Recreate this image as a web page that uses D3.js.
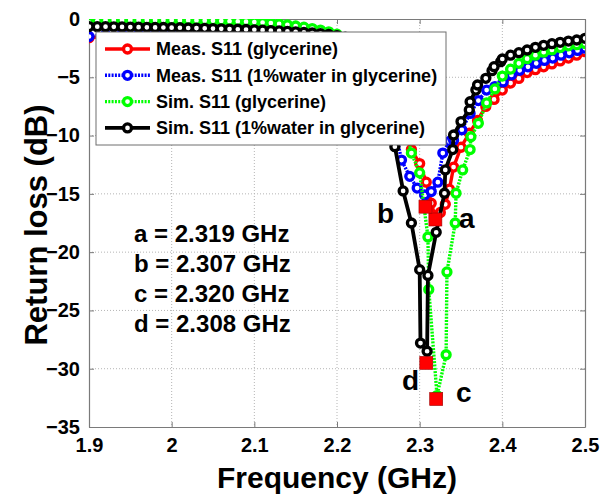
<!DOCTYPE html>
<html>
<head>
<meta charset="utf-8">
<script src="https://cdn.jsdelivr.net/npm/d3@7"></script>
<style>
  body { margin: 0; background: #fff; }
  text { font-family: Arial, "Liberation Sans", sans-serif; font-weight: bold; fill: #000; }
</style>
</head>
<body>
<svg id="chart" width="603" height="500"></svg>
<script>
// Return loss sweeps, [frequency GHz, S11 dB]
const measGlycerine = [
  [1.90,-1.6],[1.92,-1.5],[1.94,-1.5],[1.96,-1.5],[1.98,-1.5],[2.00,-1.5],[2.02,-1.55],[2.04,-1.6],
  [2.06,-1.65],[2.08,-1.7],[2.10,-1.8],[2.12,-1.9],[2.14,-2.05],[2.16,-2.3],[2.18,-2.6],[2.20,-3.1],
  [2.22,-3.9],[2.24,-5.0],[2.26,-6.8],[2.28,-9.4],[2.290,-11.2],[2.300,-12.4],[2.308,-14.0],
  [2.314,-15.8],[2.319,-17.0],[2.325,-16.6],[2.331,-15.9],[2.336,-14.6],[2.341,-12.7],[2.350,-11.0],
  [2.360,-9.8],[2.370,-8.7],[2.380,-7.5],[2.390,-6.9],[2.400,-6.1],[2.410,-5.5],[2.420,-5.1],
  [2.430,-4.6],[2.440,-4.35],[2.450,-4.1],[2.460,-3.85],[2.470,-3.6],[2.480,-3.35],[2.490,-3.1],[2.500,-2.8]
];
const measWater = [
  [1.90,-1.5],[1.92,-1.35],[1.94,-1.3],[1.96,-1.3],[1.98,-1.3],[2.00,-1.35],[2.02,-1.4],[2.04,-1.45],
  [2.06,-1.5],[2.08,-1.6],[2.10,-1.7],[2.12,-1.85],[2.14,-2.0],[2.16,-2.3],[2.18,-2.7],[2.20,-3.2],
  [2.22,-4.1],[2.24,-5.4],[2.26,-7.5],[2.270,-9.3],[2.278,-12.1],[2.288,-13.5],[2.297,-14.5],
  [2.306,-15.1],[2.314,-14.8],[2.322,-14.0],[2.328,-11.5],[2.336,-10.5],[2.341,-10.4],[2.351,-9.5],
  [2.361,-8.1],[2.371,-7.0],[2.381,-6.1],[2.391,-5.8],[2.401,-5.4],[2.411,-4.8],[2.421,-4.4],
  [2.431,-4.1],[2.441,-3.8],[2.451,-3.55],[2.461,-3.35],[2.471,-3.1],[2.481,-2.9],[2.491,-2.7],[2.500,-2.5]
];
const simGlycerine = [
  [1.90,-0.30],[1.91,-0.18],[1.92,-0.12],[1.93,-0.10],[1.94,-0.10],[1.95,-0.10],[1.96,-0.10],[1.97,-0.10],
  [1.98,-0.10],[1.99,-0.10],[2.00,-0.11],[2.01,-0.12],[2.02,-0.12],[2.03,-0.13],[2.04,-0.14],[2.05,-0.15],
  [2.06,-0.17],[2.07,-0.19],[2.08,-0.21],[2.09,-0.23],[2.10,-0.26],[2.11,-0.30],[2.12,-0.35],[2.13,-0.42],
  [2.14,-0.50],[2.15,-0.60],[2.16,-0.70],[2.17,-0.82],[2.18,-0.95],[2.19,-1.10],[2.20,-1.30],
  [2.22,-1.9],[2.24,-3.0],[2.26,-5.0],[2.28,-8.5],[2.290,-11.5],[2.300,-13.2],[2.310,-18.7],
  [2.311,-23.2],[2.321,-32.3],[2.332,-28.8],[2.333,-21.7],[2.343,-17.5],[2.344,-14.95],[2.352,-12.95],
  [2.361,-11.2],[2.362,-10.1],[2.371,-8.95],[2.381,-7.2],[2.391,-6.0],[2.400,-4.9],[2.410,-4.3],
  [2.420,-3.8],[2.430,-3.4],[2.440,-3.1],[2.450,-2.85],[2.460,-2.65],[2.470,-2.45],[2.480,-2.3],
  [2.490,-2.2],[2.500,-2.1]
];
const simWater = [
  [1.90,-0.65],[1.91,-0.66],[1.92,-0.66],[1.93,-0.67],[1.94,-0.68],[1.95,-0.69],[1.96,-0.70],[1.97,-0.71],
  [1.98,-0.72],[1.99,-0.73],[2.00,-0.74],[2.01,-0.75],[2.02,-0.77],[2.03,-0.78],[2.04,-0.80],[2.05,-0.82],
  [2.06,-0.84],[2.07,-0.86],[2.08,-0.88],[2.09,-0.90],[2.10,-0.93],[2.11,-0.96],[2.12,-0.99],[2.13,-1.02],
  [2.14,-1.06],[2.15,-1.10],[2.16,-1.15],[2.17,-1.20],[2.18,-1.26],[2.19,-1.33],[2.20,-1.42],[2.21,-1.55],
  [2.22,-1.75],[2.23,-2.05],[2.24,-2.6],[2.25,-3.6],[2.26,-5.8],[2.270,-10.95],[2.280,-14.75],
  [2.290,-17.5],[2.300,-21.5],[2.301,-27.8],[2.309,-28.5],[2.310,-22.0],[2.320,-18.3],[2.330,-14.95],
  [2.331,-12.95],[2.340,-11.2],[2.341,-9.95],[2.350,-8.8],[2.360,-7.8],[2.361,-7.1],[2.368,-6.1],
  [2.370,-5.66],[2.380,-5.09],[2.3875,-4.43],[2.390,-4.09],[2.398,-3.66],[2.400,-3.43],[2.410,-3.1],
  [2.420,-2.89],[2.430,-2.66],[2.440,-2.43],[2.450,-2.26],[2.460,-2.12],[2.470,-2.0],[2.480,-1.89],
  [2.490,-1.8],[2.500,-1.66]
];

// Resonance minima marked with squares
const minimaLabels = ["a", "b", "c", "d"];
const minimaFreq = [2.319, 2.307, 2.320, 2.308];
const minimaDb = [-17.2, -16.1, -32.6, -29.5];

const seriesNames = [
  "Meas. S11 (glycerine)",
  "Meas. S11 (1%water in glycerine)",
  "Sim. S11 (glycerine)",
  "Sim. S11 (1%water in glycerine)"
];
const seriesColors = ["#ff0000", "#0000ff", "#00ff00", "#000000"];
const seriesDashes = [null, "2,1.3", "2,1.3", null];
const seriesWidths = [3.4, 3.4, 3.4, 3.8];
const seriesData = [measGlycerine, measWater, simGlycerine, simWater];

const xTicks = [1.9, 2.0, 2.1, 2.2, 2.3, 2.4, 2.5];
const yTicks = [-35, -30, -25, -20, -15, -10, -5, 0];

const svg = d3.select("#chart");
const plotL = 89, plotR = 585, plotT = 19, plotB = 427;

const x = d3.scaleLinear().domain([1.9, 2.5]).range([plotL, plotR]);
const y = d3.scaleLinear().domain([-35, 0]).range([plotB, plotT]);

svg.append("defs").append("clipPath").attr("id", "plotClip")
  .append("rect").attr("x", plotL).attr("y", plotT)
  .attr("width", plotR - plotL).attr("height", plotB - plotT);

// dotted grid
const grid = svg.append("g").attr("stroke", "#b5b5b5").attr("stroke-width", 1)
  .attr("stroke-dasharray", "1,2");
grid.selectAll("line.gx").data(xTicks.slice(1, -1)).join("line").attr("class", "gx")
  .attr("x1", d => x(d)).attr("x2", d => x(d)).attr("y1", plotT).attr("y2", plotB);
grid.selectAll("line.gy").data(yTicks.slice(1, -1)).join("line").attr("class", "gy")
  .attr("y1", d => y(d)).attr("y2", d => y(d)).attr("x1", plotL).attr("x2", plotR);

// axes with inward ticks
const fmtX = d => (d === 2 ? "2" : d3.format(".1f")(d));
const axisColor = "#7a7a7a";
function styleAxis(g, showLabels) {
  g.select(".domain").attr("stroke", axisColor).attr("stroke-width", 1.2);
  g.selectAll(".tick line").attr("stroke", axisColor);
  g.selectAll(".tick text").style("font-size", "20px")
    .style("font-family", "Arial, 'Liberation Sans', sans-serif")
    .style("font-weight", "bold").attr("fill", "#000");
  if (!showLabels) g.selectAll(".tick text").remove();
}
svg.append("g").attr("transform", `translate(0,${plotB})`)
  .call(d3.axisBottom(x).tickValues(xTicks).tickFormat(fmtX).tickSizeInner(-5).tickSizeOuter(0).tickPadding(11))
  .call(g => styleAxis(g, true));
svg.append("g").attr("transform", `translate(0,${plotT})`)
  .call(d3.axisTop(x).tickValues(xTicks).tickSizeInner(-5).tickSizeOuter(0))
  .call(g => styleAxis(g, false));
svg.append("g").attr("transform", `translate(${plotL},0)`)
  .call(d3.axisLeft(y).tickValues(yTicks).tickSizeInner(-5).tickSizeOuter(0).tickPadding(9))
  .call(g => styleAxis(g, true));
svg.append("g").attr("transform", `translate(${plotR},0)`)
  .call(d3.axisRight(y).tickValues(yTicks).tickSizeInner(-5).tickSizeOuter(0))
  .call(g => styleAxis(g, false));

// curves
const plot = svg.append("g").attr("clip-path", "url(#plotClip)");
const line = d3.line().x(d => x(d[0])).y(d => y(d[1]));
seriesData.forEach((data, i) => {
  const g = plot.append("g");
  g.append("path").datum(data).attr("d", line)
    .attr("fill", "none").attr("stroke", seriesColors[i]).attr("stroke-width", seriesWidths[i])
    .attr("stroke-dasharray", seriesDashes[i]).attr("stroke-linejoin", "round");
  g.selectAll("circle").data(data).join("circle")
    .attr("cx", d => x(d[0])).attr("cy", d => y(d[1])).attr("r", 4)
    .attr("fill", "#fff").attr("stroke", seriesColors[i]).attr("stroke-width", 3.3);
});

// minima squares
const sq = 13;
plot.selectAll("rect.minimum").data(minimaFreq).join("rect")
  .attr("class", "minimum")
  .attr("x", (d) => x(d) - sq / 2).attr("y", (d, i) => y(minimaDb[i]) - sq / 2)
  .attr("width", sq).attr("height", sq)
  .attr("fill", "#ff0000").attr("stroke", "#a00000").attr("stroke-width", 0.6);

// point letters
const letterPos = { a: [459, 228], b: [377, 223], c: [456, 402], d: [402, 390] };
svg.selectAll("text.letter").data(minimaLabels).join("text")
  .attr("class", "letter")
  .attr("x", d => letterPos[d][0]).attr("y", d => letterPos[d][1])
  .style("font-size", "28px").text(d => d);

// frequency notes
svg.selectAll("text.note").data(minimaLabels).join("text")
  .attr("class", "note")
  .attr("x", 134).attr("y", (d, i) => 241.7 + i * 30)
  .style("font-size", "24px")
  .text((d, i) => `${d} = ${minimaFreq[i].toFixed(3)} GHz`);

// legend
const legend = svg.append("g");
legend.append("rect").attr("x", 96).attr("y", 32).attr("width", 350).attr("height", 113)
  .attr("fill", "#fff").attr("stroke", "#6e6e6e").attr("stroke-width", 1);
seriesNames.forEach((name, i) => {
  const ry = 49 + i * 26.3;
  legend.append("line").attr("x1", 105).attr("x2", 150).attr("y1", ry).attr("y2", ry)
    .attr("stroke", seriesColors[i]).attr("stroke-width", seriesWidths[i])
    .attr("stroke-dasharray", seriesDashes[i]);
  legend.append("circle").attr("cx", 127.5).attr("cy", ry).attr("r", 4)
    .attr("fill", "#fff").attr("stroke", seriesColors[i]).attr("stroke-width", 3.3);
  legend.append("text").attr("x", 156).attr("y", ry).attr("dy", "0.36em")
    .style("font-size", "18px").text(name);
});

// axis titles
svg.append("text").attr("x", 337).attr("y", 488).attr("text-anchor", "middle")
  .style("font-size", "30px").text("Frequency (GHz)");
svg.append("text").attr("transform", "translate(47,225) rotate(-90)")
  .attr("text-anchor", "middle").style("font-size", "31px").text("Return loss (dB)");
</script>
</body>
</html>
